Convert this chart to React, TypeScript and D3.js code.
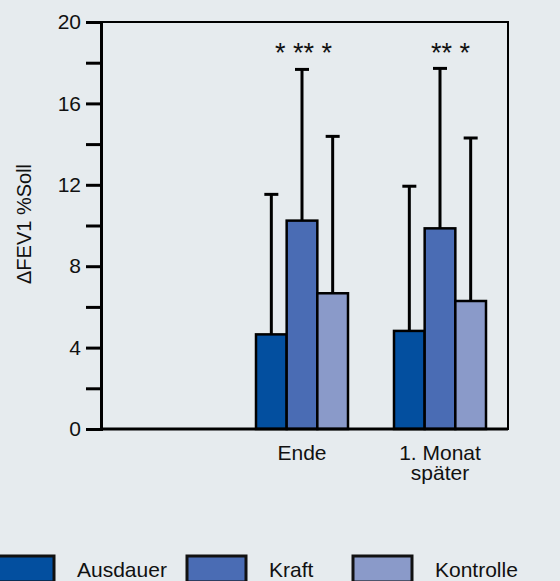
import * as d3 from "d3";
import { useEffect, useRef } from "react";

// categories on the x axis (first slot is left empty in the original)
const categories = ["", "Ende", "1. Monat später"];
const categoryLines: string[][] = [[], ["Ende"], ["1. Monat", "später"]];
const series = ["Ausdauer", "Kraft", "Kontrolle"];
const colors = ["#034f9f", "#4a6cb4", "#8a9ac9"];

// mean values per category (Ende, 1. Monat später)
const ausdauer = [4.65, 4.82];
const kraft = [10.24, 9.86];
const kontrolle = [6.67, 6.29];

// upper end of error bars
const ausdauerErr = [11.53, 11.93];
const kraftErr = [17.67, 17.72];
const kontrolleErr = [14.38, 14.3];

const stars = ["* ** *", "** *"];
const yTicks = [0, 2, 4, 6, 8, 10, 12, 14, 16, 18, 20];
const legendX = [-5, 187, 353];

function App() {
  const ref = useRef<SVGSVGElement>(null);

  useEffect(() => {
    document.body.style.margin = "0";
    const width = 560;
    const height = 581;
    const font = "'Liberation Sans', Arial, sans-serif";

    const svg = d3.select(ref.current);
    svg.selectAll("*").remove();

    svg
      .append("rect")
      .attr("width", width)
      .attr("height", height)
      .attr("fill", "#e6ebee");

    const plot = { left: 101, right: 508, top: 22, bottom: 429 };

    const yScale = d3.scaleLinear().domain([0, 20]).range([plot.bottom, plot.top]);

    const xScale = d3
      .scaleBand()
      .domain(categories)
      .range([95, 509])
      .paddingInner(1 / 3)
      .paddingOuter(1 / 6);

    const inner = d3
      .scaleBand()
      .domain(series)
      .range([0, xScale.bandwidth()]);

    // frame
    svg
      .append("rect")
      .attr("x", plot.left)
      .attr("y", plot.top)
      .attr("width", plot.right - plot.left)
      .attr("height", plot.bottom - plot.top)
      .attr("fill", "none")
      .attr("stroke", "#000")
      .attr("stroke-width", 2);

    // y axis
    const yAxis = svg
      .append("g")
      .attr("transform", `translate(${plot.left},0)`)
      .call(
        d3
          .axisLeft(yScale)
          .tickValues(yTicks)
          .tickSize(15)
          .tickPadding(5)
          .tickFormat((d) => ((d as number) % 4 === 0 ? String(d) : ""))
      );
    yAxis.select(".domain").attr("stroke-width", 3);
    yAxis.selectAll(".tick line").attr("stroke-width", 3);
    yAxis
      .selectAll(".tick text")
      .attr("font-size", 21)
      .attr("font-family", font)
      .attr("fill", "#111");

    // y label
    svg
      .append("text")
      .attr("transform", `translate(31,224) rotate(-90)`)
      .attr("text-anchor", "middle")
      .attr("font-size", 20)
      .attr("font-family", font)
      .attr("fill", "#111")
      .text("ΔFEV1 %Soll");

    const values = [ausdauer, kraft, kontrolle];
    const errs = [ausdauerErr, kraftErr, kontrolleErr];
    const dataCats = categories.slice(1);

    // error bars first, bars drawn on top
    series.forEach((s, si) => {
      dataCats.forEach((c, ci) => {
        const cx = (xScale(c) as number) + (inner(s) as number) + inner.bandwidth() / 2;
        svg
          .append("line")
          .attr("x1", cx)
          .attr("x2", cx)
          .attr("y1", yScale(values[si][ci]))
          .attr("y2", yScale(errs[si][ci]))
          .attr("stroke", "#000")
          .attr("stroke-width", 3);
        svg
          .append("line")
          .attr("x1", cx - 7)
          .attr("x2", cx + 7)
          .attr("y1", yScale(errs[si][ci]))
          .attr("y2", yScale(errs[si][ci]))
          .attr("stroke", "#000")
          .attr("stroke-width", 3);
      });
    });

    series.forEach((s, si) => {
      dataCats.forEach((c, ci) => {
        const x = (xScale(c) as number) + (inner(s) as number);
        svg
          .append("rect")
          .attr("x", x)
          .attr("y", yScale(values[si][ci]))
          .attr("width", inner.bandwidth())
          .attr("height", yScale(0) - yScale(values[si][ci]))
          .attr("fill", colors[si])
          .attr("stroke", "#000")
          .attr("stroke-width", 2.5);
      });
    });

    // bottom axis line
    svg
      .append("line")
      .attr("x1", plot.left)
      .attr("x2", plot.right)
      .attr("y1", plot.bottom)
      .attr("y2", plot.bottom)
      .attr("stroke", "#000")
      .attr("stroke-width", 3);

    // significance stars
    dataCats.forEach((c, ci) => {
      const center = (xScale(c) as number) + xScale.bandwidth() / 2;
      svg
        .append("text")
        .attr("x", center + 30)
        .attr("y", 62)
        .attr("text-anchor", "end")
        .attr("font-size", 27)
        .attr("font-family", font)
        .attr("fill", "#111")
        .attr("xml:space", "preserve")
        .style("white-space", "pre")
        .text(stars[ci]);
    });

    // category labels (one text element, one tspan per line)
    categories.forEach((c, i) => {
      if (categoryLines[i].length === 0) return;
      const center = (xScale(c) as number) + xScale.bandwidth() / 2;
      const label = svg
        .append("text")
        .attr("y", 460)
        .attr("text-anchor", "middle")
        .attr("font-size", 21)
        .attr("font-family", font)
        .attr("fill", "#111");
      categoryLines[i].forEach((line, li) => {
        label
          .append("tspan")
          .attr("x", center)
          .attr("dy", li === 0 ? 0 : 20)
          .text(line);
      });
    });

    // legend
    series.forEach((s, i) => {
      svg
        .append("rect")
        .attr("x", legendX[i])
        .attr("y", 556)
        .attr("width", 59)
        .attr("height", 26)
        .attr("fill", colors[i])
        .attr("stroke", "#111")
        .attr("stroke-width", 3);
      svg
        .append("text")
        .attr("x", legendX[i] + 82)
        .attr("y", 577)
        .attr("font-size", 21)
        .attr("font-family", font)
        .attr("fill", "#111")
        .text(s);
    });
  }, []);

  return <svg ref={ref} width={560} height={581} style={{ display: "block" }} />;
}

export default App;
